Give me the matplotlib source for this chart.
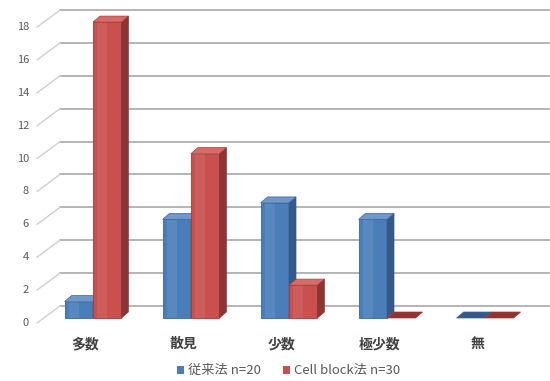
import numpy as np
import matplotlib
matplotlib.use("Agg")
from matplotlib import pyplot as plt
from matplotlib.patches import Polygon, Rectangle

plt.rcParams['font.family'] = ['Noto Sans CJK JP', 'DejaVu Sans']

categories = ['多数', '散見', '少数', '極少数', '無']
conventional = [1, 6, 7, 6, 0]
cell_block = [18, 10, 2, 0, 0]
series_names = ['従来法 n=20', 'Cell block法 n=30']
y_ticks = [0, 2, 4, 6, 8, 10, 12, 14, 16, 18]

# pixel scale of the figure (x: one category = 98 px, y: one unit = 16.44 px)
PX_X = 98.0
PX_Y = 16.44

wall_dx, wall_dy = 23 / PX_X, 17 / PX_Y     # depth of back wall
bar_dx, bar_dy = 7 / PX_X, 6 / PX_Y         # depth of each bar
base_dy = 5 / PX_Y                          # bars sit a little behind the front
bar_w = 0.29

colors = {
    0: dict(front='#4a7ebb', side='#345a8a', top='#6f97cc', edge='#3a669c'),
    1: dict(front='#c9504d', side='#8e3432', top='#d86b68', edge='#a23d3a'),
}

fig = plt.figure(figsize=(5.5, 3.81), dpi=100)
ax = fig.add_axes([0, 0, 1, 1])
ax.set_xlim(-93 / PX_X, 457 / PX_X)
ax.set_ylim(-(381 - 323) / PX_Y, 323 / PX_Y)
ax.axis('off')

x_left = -56 / PX_X  # front-left corner of the axis
for t in y_ticks:
    ax.plot([x_left + wall_dx, 4.65], [t + wall_dy, t + wall_dy],
            color='#a8a8a8', lw=1.2, zorder=1)
    ax.plot([x_left, x_left + wall_dx], [t, t + wall_dy],
            color='#cfcfcf', lw=1.0, zorder=1)
    ax.text(x_left - 8 / PX_X, t, str(t), ha='right', va='center',
            fontsize=8, color='#595959')


def draw_bar(x0, h, c, z):
    x1 = x0 + bar_w
    y0 = base_dy
    y1 = base_dy + h
    # front face
    if h > 0:
        ax.add_patch(Rectangle((x0, y0), bar_w, h, facecolor=c['front'],
                               edgecolor=c['edge'], lw=0.6, zorder=z))
        # a lighter stripe on the front to suggest shading
        ax.add_patch(Rectangle((x0 + bar_w * 0.15, y0), bar_w * 0.35, h,
                               facecolor='white', alpha=0.08, lw=0, zorder=z))
    # side face
    side = [(x1, y0), (x1 + bar_dx, y0 + bar_dy), (x1 + bar_dx, y1 + bar_dy), (x1, y1)]
    ax.add_patch(Polygon(side, closed=True, facecolor=c['side'],
                         edgecolor=c['side'], lw=0.5, zorder=z))
    # top face
    top = [(x0, y1), (x1, y1), (x1 + bar_dx, y1 + bar_dy), (x0 + bar_dx, y1 + bar_dy)]
    ax.add_patch(Polygon(top, closed=True, facecolor=c['top'] if h > 0 else c['side'],
                         edgecolor=c['edge'], lw=0.5, zorder=z))


for i in range(len(categories)):
    draw_bar(i - bar_w, conventional[i], colors[0], 3)
    draw_bar(i, cell_block[i], colors[1], 4)
    ax.text(i - 0.08, -21 / PX_Y, categories[i], ha='center', va='center',
            fontsize=10, fontweight='bold', color='#404040')

# legend
leg_y = -47 / PX_Y
for k, (xpos, name) in enumerate([(84 / PX_X, series_names[0]), (190 / PX_X, series_names[1])]):
    ax.add_patch(Rectangle((xpos, leg_y - 3.5 / PX_Y), 7.5 / PX_X, 7.5 / PX_Y,
                           facecolor=colors[k]['front'], lw=0, zorder=5))
    ax.text(xpos + 11 / PX_X, leg_y, name, ha='left', va='center',
            fontsize=9.5, color='#595959')

fig.savefig('out.png', dpi=100)
